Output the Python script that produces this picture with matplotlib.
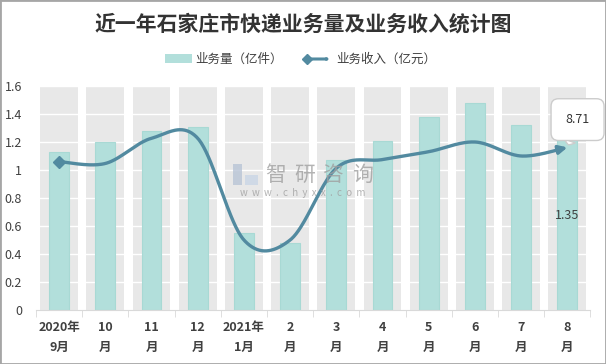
import numpy as np
import matplotlib
matplotlib.use("Agg")
import matplotlib.pyplot as plt
from matplotlib.patches import Rectangle

plt.rcParams['font.family'] = ['Noto Sans CJK SC', 'DejaVu Sans']

months = ["2020年\n9月", "10\n月", "11\n月", "12\n月", "2021年\n1月", "2\n月",
          "3\n月", "4\n月", "5\n月", "6\n月", "7\n月", "8\n月"]
volume = [1.13, 1.20, 1.28, 1.31, 0.55, 0.48, 1.07, 1.21, 1.38, 1.48, 1.32, 1.35]
income = [7.95, 7.85, 9.2, 9.2, 3.75, 3.75, 7.6, 8.06, 8.48, 9.0, 8.25, 8.71]

bar_c = "#B2DFDB"
line_c = "#528AA0"


def smooth(x, y, n=40):
    # Bezier smoothing in the style of office "smoothed line"
    p = np.column_stack([x, y]).astype(float)
    e = np.vstack([p[0], p, p[-1]])
    segs = []
    t = np.linspace(0, 1, n)[:, None]
    for i in range(len(p) - 1):
        p0, p1, p2, p3 = e[i], e[i + 1], e[i + 2], e[i + 3]
        c1 = p1 + (p2 - p0) / 6
        c2 = p2 - (p3 - p1) / 6
        segs.append((1 - t) ** 3 * p1 + 3 * (1 - t) ** 2 * t * c1
                    + 3 * (1 - t) * t ** 2 * c2 + t ** 3 * p2)
    return np.vstack(segs)


fig = plt.figure(figsize=(6.06, 3.64), dpi=100)
ax = fig.add_axes([0.0594, 0.1484, 0.915, 0.6153])
x = np.arange(len(months))

# gray column bands + white grid
ax.bar(x, 1.6, width=0.82, color="#E8E8E8", zorder=0)
for v in np.arange(0.2, 1.61, 0.2):
    ax.axhline(v, color="white", lw=1, zorder=1)
ax.bar(x, volume, width=0.43, color=bar_c, edgecolor="#A8D9D4", lw=0.8, zorder=2)
ax.text(x[-1], volume[-1] / 2, f"{volume[-1]:.2f}", ha="center", va="center",
        fontsize=9, color="#404040", zorder=6)

ax.set_xlim(-0.5, len(months) - 0.5)
ax.set_ylim(0, 1.6)
ax.set_yticks(np.arange(0, 1.61, 0.2))
ax.set_yticklabels(["0", "0.2", "0.4", "0.6", "0.8", "1", "1.2", "1.4", "1.6"])
ax.tick_params(axis="y", length=0, labelsize=9, labelcolor="#404040", pad=10)
ax.set_xticks(x)
ax.set_xticklabels(months, fontsize=9, fontweight="bold", color="#404040", linespacing=1.7)
ax.set_xticks(np.arange(-0.5, len(months)), minor=True)
ax.tick_params(axis="x", which="major", length=0, pad=8)
ax.tick_params(axis="x", which="minor", length=5, color="#D9D9D9")
for s in ["top", "right", "left"]:
    ax.spines[s].set_visible(False)
ax.spines["bottom"].set_color("#D9D9D9")

# watermark
fig.patches.append(Rectangle((233 / 606, 1 - 185 / 364), 9 / 606, 21 / 364,
                             transform=fig.transFigure, fc="#B8C4D6", ec="none", alpha=0.8))
fig.patches.append(Rectangle((245 / 606, 1 - 185 / 364), 13 / 606, 10 / 364,
                             transform=fig.transFigure, fc="#C9D6E6", ec="none", alpha=0.8))
for i, ch in enumerate("智研咨询"):
    fig.text((276 + 28.7 * i) / 606, 1 - 175 / 364, ch, fontsize=15, color="#A0A0A0",
             alpha=0.8, ha="center", va="center")
fig.text(303 / 606, 1 - 193 / 364, "w  w  w  .  c  h  y  x  x  .  c  o  m", fontsize=7,
         color="#A0A0A0", alpha=0.8, ha="center", va="center")

# income line on a hidden secondary axis
ax2 = ax.twinx()
ax2.set_ylim(0, 12)
ax2.axis("off")
cur = smooth(x, income)
ax2.plot(cur[:-6, 0], cur[:-6, 1], color=line_c, lw=2.4, solid_capstyle="round", zorder=4)
ax2.annotate("", xy=cur[-1], xytext=cur[-8],
             arrowprops=dict(arrowstyle="-|>,head_length=0.5,head_width=0.25",
                             color=line_c, lw=2.4, shrinkA=0, shrinkB=0))
ax2.plot(x[0], income[0], marker="D", ms=6, color=line_c, zorder=5)
ax2.annotate(f"{income[-1]:.2f}", xy=(x[-1], income[-1]), xytext=(11.22, 10.2),
             ha="center", va="center", fontsize=9, color="#333333",
             annotation_clip=False,
             bbox=dict(boxstyle="round,pad=1.15,rounding_size=0.6", fc="white", ec="#CCCCCC"),
             arrowprops=dict(arrowstyle="wedge,tail_width=0.9,shrink_factor=0.6",
                             fc="white", ec="#CCCCCC", shrinkA=0, shrinkB=2))

# title and legend
fig.text(0.5, 0.935, "近一年石家庄市快递业务量及业务收入统计图", fontsize=15,
         fontweight="bold", color="#333333", ha="center", va="center")
fig.patches.append(Rectangle((165 / 606, 1 - 63 / 364), 27 / 606, 9 / 364,
                             transform=fig.transFigure, fc=bar_c, ec="none"))
fig.text(195 / 606, 1 - 59 / 364, "业务量（亿件）", fontsize=9, color="#404040", va="center")
fig.add_artist(matplotlib.patches.FancyArrowPatch(
    (306 / 606, 1 - 59 / 364), (333 / 606, 1 - 59 / 364), transform=fig.transFigure,
    arrowstyle="-|>,head_length=0.4,head_width=0.2", color=line_c, lw=2.2))
fig.add_artist(matplotlib.lines.Line2D([307 / 606], [1 - 59 / 364], marker="D", ms=5,
                                       color=line_c, transform=fig.transFigure))
fig.text(336 / 606, 1 - 59 / 364, "业务收入（亿元）", fontsize=9, color="#404040", va="center")

fig.patches.append(Rectangle((0, 0), 1, 1, transform=fig.transFigure, fill=False,
                             ec="#A6A6A6", lw=2))

plt.savefig("out.png", dpi=100)
